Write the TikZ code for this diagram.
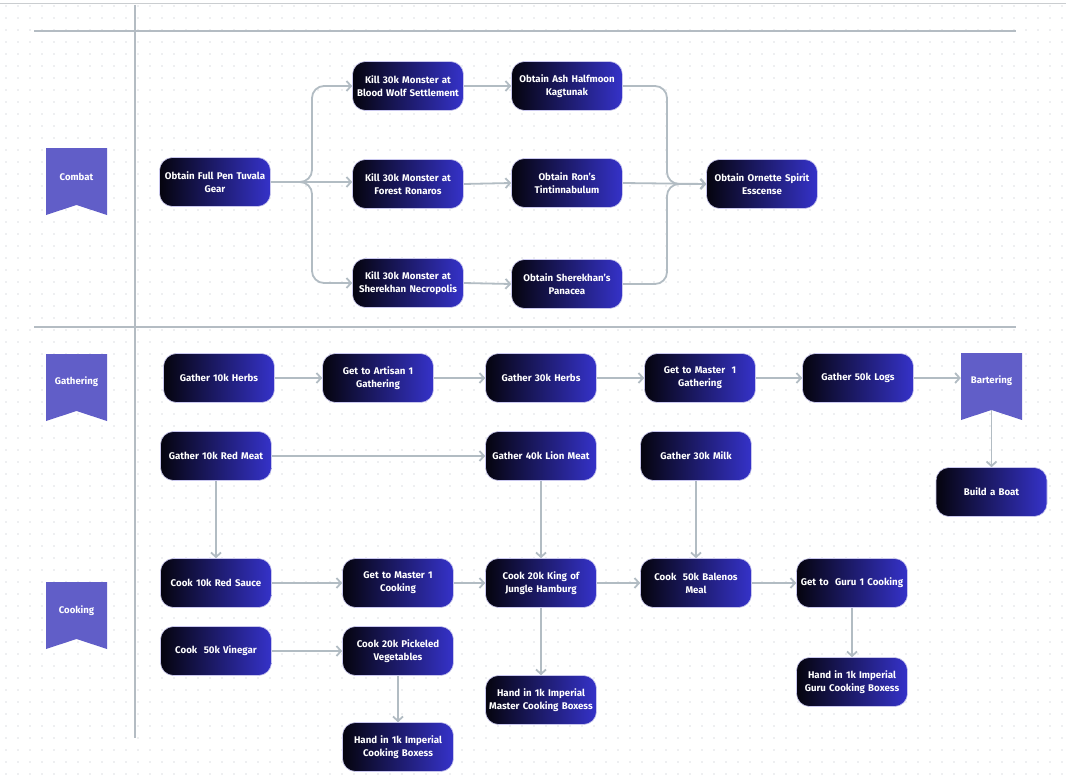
\documentclass[tikz,border=0pt]{standalone}
\usepackage{fontspec}
\setmainfont{Fira Sans}
\usetikzlibrary{arrows.meta}
\definecolor{lanegray}{HTML}{B4BCC3}
\definecolor{conngray}{HTML}{B2BCC3}
\definecolor{dotgray}{HTML}{DDE0E4}
\definecolor{bannerc}{HTML}{615EC8}
\definecolor{nodeleft}{HTML}{05040E}
\definecolor{noderight}{HTML}{3532C9}
\definecolor{nodeedge}{HTML}{C9C7EE}
\tikzset{
  stepbox/.style={rounded corners=13pt, left color=nodeleft, right color=noderight,
    draw=nodeedge, line width=0.6pt, minimum width=111pt, minimum height=49pt,
    text width=109pt, align=center, text=white,
    font=\fontsize{9.7}{13}\selectfont\bfseries, inner sep=0pt},
  bannertext/.style={text=white, font=\fontsize{9.6}{11}\selectfont\bfseries,
    minimum width=61pt, minimum height=40pt, inner sep=0pt},
  conn/.style={draw=conngray, line width=1.8pt, rounded corners=12pt,
    -{Straight Barb[length=4.5pt,width=10pt,line width=1.8pt]}},
  lane/.style={draw=lanegray, line width=2pt}
}
\begin{document}
\begin{tikzpicture}[x=1pt,y=-1pt]
\useasboundingbox (0,0) rectangle (1066,776);
\fill[white] (0,0) rectangle (1066,776);
% dot grid
\foreach \i in {0,...,88}{
  \foreach \j in {0,...,64}{
    \fill[dotgray] (6+12*\i,6+12*\j) circle (0.8);
  }
}
\draw[draw=dotgray!80!gray, line width=1pt] (0,4) -- (1066,4);
% swimlane lines
\draw[lane] (135,5) -- (135,738);
\draw[lane] (34,31.5) -- (1016,31.5);
\draw[lane] (34,327) -- (1016,327);

% banners
\fill[bannerc] (46,148) -- (107,148) -- (107,215) -- (76.5,205) -- (46,215) -- cycle;
\node[bannertext] (combat) at (76.5,177) {Combat};
\fill[bannerc] (46,354) -- (107,354) -- (107,421) -- (76.5,411) -- (46,421) -- cycle;
\node[bannertext] (gathering) at (76.5,382) {Gathering};
\fill[bannerc] (46,582) -- (107,582) -- (107,649) -- (76.5,639) -- (46,649) -- cycle;
\node[bannertext] (cooking) at (76.5,611) {Cooking};
\fill[bannerc] (961,353) -- (1022,353) -- (1022,420) -- (991.5,410) -- (961,420) -- cycle;
\node[bannertext] (bartering) at (991.5,381) {Bartering};
\coordinate (bartnotch) at (991.5,410);

% combat nodes
\node[stepbox] (A) at (215,182) {Obtain Full Pen Tuvala\\Gear};
\node[stepbox] (B1) at (408,86) {Kill 30k Monster at\\Blood Wolf Settlement};
\node[stepbox] (B2) at (408,184) {Kill 30k Monster at\\Forest Ronaros};
\node[stepbox] (B3) at (408,283) {Kill 30k Monster at\\Sherekhan Necropolis};
\node[stepbox] (C1) at (567,86) {Obtain Ash Halfmoon\\Kagtunak};
\node[stepbox] (C2) at (567,183) {Obtain Ron’s\\Tintinnabulum};
\node[stepbox] (C3) at (567,284) {Obtain Sherekhan’s\\Panacea};
\node[stepbox] (D) at (762,184) {Obtain Ornette Spirit\\Esscense};

\coordinate (split) at (312,182);
\coordinate (merge) at (667,184);
\draw[conn] (A.east) -- (split) |- (B1.west);
\draw[conn] (A.east) -- (B2.west |- A.east);
\draw[conn] (A.east) -- (split) |- (B3.west);
\draw[conn] (B1.east) -- (C1.west);
\draw[conn] (B2.east) -- (C2.west);
\draw[conn] (B3.east) -- (C3.west);
\draw[conn] (C1.east) -| (merge) -- (D.west);
\draw[conn] (C2.east) -- (D.west);
\draw[conn] (C3.east) -| (merge) -- (D.west);

% gathering nodes
\node[stepbox] (G1) at (219,378) {Gather 10k Herbs};
\node[stepbox] (G2) at (378,378) {Get to Artisan 1\\Gathering};
\node[stepbox] (G3) at (541,378) {Gather 30k Herbs};
\node[stepbox] (G4) at (700,378) {Get to Master\ \ 1\\Gathering};
\node[stepbox] (G5) at (858,378) {Gather 50k Logs};
\node[stepbox] (boat) at (991.5,492) {Build a Boat};
\node[stepbox] (R1) at (216,456) {Gather 10k Red Meat};
\node[stepbox] (R2) at (541,456) {Gather 40k Lion Meat};
\node[stepbox] (M) at (696,456) {Gather 30k Milk};

\draw[conn] (G1.east) -- (G2.west);
\draw[conn] (G2.east) -- (G3.west);
\draw[conn] (G3.east) -- (G4.west);
\draw[conn] (G4.east) -- (G5.west);
\draw[conn] (G5.east) -- (bartering.west |- G5.east);
\draw[conn] (bartnotch) -- (boat.north);
\draw[conn] (R1.east) -- (R2.west);

% cooking nodes
\node[stepbox] (K1) at (216,583) {Cook 10k Red Sauce};
\node[stepbox] (K2) at (398,583) {Get to Master 1\\Cooking};
\node[stepbox] (K3) at (541,583) {Cook 20k King of\\Jungle Hamburg};
\node[stepbox] (K4) at (696,583) {Cook\ \ 50k Balenos\\Meal};
\node[stepbox] (K5) at (852,583) {Get to\ \ Guru 1 Cooking};
\node[stepbox] (V1) at (216,651) {Cook\ \ 50k Vinegar};
\node[stepbox] (V2) at (398,651) {Cook 20k Pickeled\\Vegetables};
\node[stepbox] (V3) at (398,747) {Hand in 1k Imperial\\Cooking Boxess};
\node[stepbox] (H1) at (541,700) {Hand in 1k Imperial\\Master Cooking Boxess};
\node[stepbox] (H2) at (852,682) {Hand in 1k Imperial\\Guru Cooking Boxess};

\draw[conn] (R1.south) -- (K1.north);
\draw[conn] (R2.south) -- (K3.north);
\draw[conn] (M.south) -- (K4.north);
\draw[conn] (K1.east) -- (K2.west);
\draw[conn] (K2.east) -- (K3.west);
\draw[conn] (K3.east) -- (K4.west);
\draw[conn] (K4.east) -- (K5.west);
\draw[conn] (K3.south) -- (H1.north);
\draw[conn] (K5.south) -- (H2.north);
\draw[conn] (V1.east) -- (V2.west);
\draw[conn] (V2.south) -- (V3.north);
\end{tikzpicture}
\end{document}
